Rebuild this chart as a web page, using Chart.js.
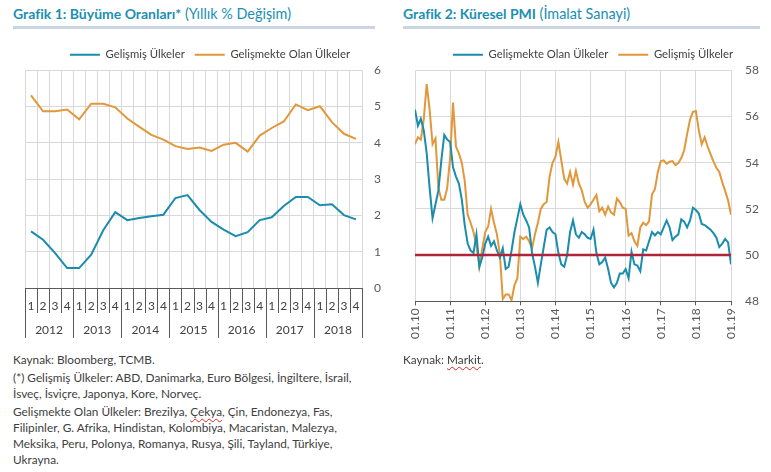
<!DOCTYPE html>
<html lang="tr">
<head>
<meta charset="utf-8">
<script src="https://cdn.jsdelivr.net/npm/chart.js@4.4.1/dist/chart.umd.min.js"></script>
<style>
    body { margin: 0; width: 771px; height: 472px; background: #fff; font-family: Lato, sans-serif; position: relative; overflow: hidden; }
    .title { position: absolute; top: 5px; font-size: 14px; line-height: 18px; color: #1b8fb3; white-space: nowrap; }
    .title b { font-weight: 700; }
    .title span { font-size: 14.4px; }
    .bar { position: absolute; top: 26px; height: 3px; background: #cbd5e2; }
    .box { position: absolute; }
    .note { position: absolute; font-size: 11.8px; line-height: 16px; color: #404040; white-space: nowrap; }
    .note div { margin-bottom: 2px; }
    .squig { text-decoration: underline wavy #e02424; text-decoration-thickness: 1px; text-underline-offset: 2px; }
</style>
</head>
<body>
<div class="title" style="left:13px"><b>Grafik 1: Büyüme Oranları*</b> <span>(Yıllık % Değişim)</span></div>
<div class="bar" style="left:13px;width:362px"></div>
<div class="title" style="left:403px"><b>Grafik 2: Küresel PMI</b> <span>(İmalat Sanayi)</span></div>
<div class="bar" style="left:403px;width:357px"></div>

<div class="box" style="left:0;top:39px;width:395px;height:306px"><canvas id="growthChart"></canvas></div>
<div class="box" style="left:390px;top:39px;width:381px;height:303px"><canvas id="pmiChart"></canvas></div>

<div class="note" style="left:13px;top:352px">
    <div>Kaynak: Bloomberg, TCMB.</div>
    <div>(*) Gelişmiş Ülkeler: ABD, Danimarka, Euro Bölgesi, İngiltere, İsrail,<br>İsveç, İsviçre, Japonya, Kore, Norveç.</div>
    <div>Gelişmekte Olan Ülkeler: Brezilya, <span class="squig">Çekya</span>, Çin, Endonezya, Fas,<br>Filipinler, G. Afrika, Hindistan, Kolombiya, Macaristan, Malezya,<br>Meksika, Peru, Polonya, Romanya, Rusya, Şili, Tayland, Türkiye,<br>Ukrayna.</div>
</div>
<div class="note" style="left:403px;top:352px">Kaynak: <span class="squig">Markit</span>.</div>

<script>
// ---------- Grafik 1: çeyreklik büyüme (yıllık % değişim) ----------
const quarterLabels = ['1','2','3','4','1','2','3','4','1','2','3','4','1','2','3','4',
                       '1','2','3','4','1','2','3','4','1','2','3','4'];
const yearLabels = ['2012', '2013', '2014', '2015', '2016', '2017', '2018'];
const growthAdvanced = [1.56, 1.33, 0.96, 0.55, 0.55, 0.92, 1.59, 2.09, 1.87, 1.93, 1.98, 2.02,
                        2.48, 2.56, 2.15, 1.82, 1.61, 1.43, 1.54, 1.87, 1.95, 2.26, 2.51, 2.51,
                        2.28, 2.31, 2.01, 1.89];
const growthEmerging = [5.31, 4.87, 4.87, 4.92, 4.65, 5.08, 5.08, 4.98, 4.67, 4.44, 4.22, 4.09,
                        3.91, 3.83, 3.87, 3.78, 3.95, 4.00, 3.76, 4.20, 4.41, 4.59, 5.06, 4.90,
                        5.01, 4.57, 4.25, 4.11];

// ---------- Grafik 2: aylık PMI, 01.10 - 01.19 ----------
const pmiTickLabels = ['01.10','01.11','01.12','01.13','01.14','01.15','01.16','01.17','01.18','01.19'];
const pmiEmerging = [
    56.3, 55.6, 55.9, 55.4, 54.4, 52.9, 51.6, 52.2, 52.8, 54.1, 55.2, 55.0,
    54.9, 53.8, 53.4, 53.1, 52.4, 51.3, 50.5, 50.2, 50.1, 50.9, 49.5, 49.9,
    50.5, 50.8, 50.4, 50.6, 50.2, 49.9, 50.3, 49.4, 49.5, 50.2, 51.0, 51.6,
    52.2, 51.75, 51.5, 51.2, 50.1, 49.5, 48.8, 49.6, 50.35, 51.1, 51.2, 51.0,
    50.9, 50.1, 49.6, 49.5, 50.0, 51.0, 51.5, 50.9, 50.75, 51.0, 50.9, 50.75,
    50.7, 51.1, 50.1, 49.6, 49.7, 49.9, 49.4, 48.8, 48.6, 48.8, 49.2, 49.2,
    49.4, 49.0, 50.15, 49.6, 49.55, 49.3, 50.25, 50.2, 50.6, 51.0, 50.85, 51.0,
    50.9, 51.2, 51.5, 51.2, 50.65, 50.8, 50.9, 51.55, 51.45, 51.2, 51.5, 52.05,
    51.95, 51.8, 51.35, 51.3, 51.2, 51.1, 50.95, 50.75, 50.35, 50.5, 50.7, 50.55,
    49.6
];
const pmiAdvanced = [
    54.8, 55.1, 55.0, 55.9, 57.4, 56.3, 54.8, 55.05, 52.9, 52.4, 52.4, 52.9,
    54.2, 56.6, 54.7, 54.4, 54.0, 53.2, 51.75, 51.4, 51.0, 50.4, 49.5, 50.3,
    51.0, 51.24, 52.0, 51.4, 50.9, 50.06, 48.1, 48.3, 48.3, 48.05, 48.7, 49.0,
    50.8, 50.7, 50.8, 50.6, 50.3, 50.9, 51.4, 52.0, 52.2, 52.3, 53.4, 54.0,
    54.25, 54.9, 54.1, 53.3, 53.1, 53.6, 53.05, 53.65, 53.1, 52.8, 52.3, 52.05,
    52.2, 52.4, 52.6, 51.9, 52.05, 51.75, 52.1, 51.85, 51.75, 52.45, 52.3, 52.05,
    52.0, 50.85, 50.95, 50.6, 50.4, 51.2, 51.4, 51.3, 51.46, 52.63, 52.85, 53.6,
    54.07, 54.1, 53.96, 54.04, 54.07, 53.9, 53.99, 54.2, 54.54, 55.24, 55.87, 56.2,
    56.24, 55.4, 54.8, 55.1, 54.7, 54.37, 54.06, 53.78, 53.6, 53.16, 52.78, 52.37,
    51.75
];
const pmiThreshold = 50;

const BLUE = '#1a8cad';
const ORANGE = '#e1973a';
const GRID = '#d9d9d9';
const AXIS = '#595959';

Chart.defaults.font.family = 'Lato';
Chart.defaults.font.size = 12;
Chart.defaults.color = '#595959';

const legendOpts = {
    position: 'top',
    labels: { usePointStyle: true, pointStyle: 'line', pointStyleWidth: 30, boxHeight: 12, padding: 10, color: '#404040', font: { size: 11.3 } }
};

// iki seviyeli (çeyrek / yıl) kategori ekseni
const quarterYearAxis = {
    id: 'quarterYearAxis',
    afterDraw(chart) {
        const { ctx, chartArea, scales: { x } } = chart;
        const base = chartArea.bottom;
        const step = x.getPixelForValue(1) - x.getPixelForValue(0);
        ctx.save();
        ctx.strokeStyle = AXIS;
        ctx.lineWidth = 1;
        ctx.fillStyle = '#404040';
        ctx.font = '12px Lato';
        ctx.textAlign = 'center';
        ctx.textBaseline = 'middle';
        const vline = (px, len) => {
            const sx = Math.round(px) + 0.5;
            ctx.beginPath();
            ctx.moveTo(sx, base);
            ctx.lineTo(sx, base + len);
            ctx.stroke();
        };
        quarterLabels.forEach((q, i) => {
            const cx = x.getPixelForValue(i);
            ctx.fillText(q, cx, base + 18);
            vline(cx - step / 2, i % 4 === 0 ? 50 : 25);
        });
        vline(x.getPixelForValue(quarterLabels.length - 1) + step / 2, 50);
        yearLabels.forEach((yr, j) => {
            const cx = (x.getPixelForValue(j * 4) + x.getPixelForValue(j * 4 + 3)) / 2;
            ctx.fillText(yr, cx, base + 42);
        });
        ctx.restore();
    }
};

// 50 eşik çizgisi
const thresholdLine = {
    id: 'thresholdLine',
    afterDatasetsDraw(chart) {
        const { ctx, chartArea, scales: { y } } = chart;
        const py = y.getPixelForValue(pmiThreshold);
        ctx.save();
        ctx.strokeStyle = '#b0243a';
        ctx.lineWidth = 2.5;
        ctx.beginPath();
        ctx.moveTo(chartArea.left, py);
        ctx.lineTo(chartArea.right, py);
        ctx.stroke();
        ctx.restore();
    }
};

new Chart(document.getElementById('growthChart'), {
    type: 'line',
    data: {
        labels: quarterLabels,
        datasets: [
            { label: 'Gelişmiş Ülkeler', data: growthAdvanced, borderColor: BLUE, backgroundColor: BLUE, borderWidth: 2, pointRadius: 0, tension: 0 },
            { label: 'Gelişmekte Olan Ülkeler', data: growthEmerging, borderColor: ORANGE, backgroundColor: ORANGE, borderWidth: 2, pointRadius: 0, tension: 0 }
        ]
    },
    options: {
        responsive: true,
        maintainAspectRatio: false,
        animation: false,
        layout: { padding: { left: 25, bottom: 57 } },
        plugins: { legend: legendOpts, tooltip: { enabled: false } },
        scales: {
            x: {
                offset: true,
                grid: { offset: true, color: GRID, drawTicks: false },
                border: { color: AXIS },
                ticks: { display: false }
            },
            y: {
                position: 'right',
                min: 0,
                max: 6,
                ticks: { stepSize: 1, padding: 12 },
                grid: { color: GRID, drawTicks: false },
                border: { display: false },
                afterFit: (s) => { s.width = 33; }
            }
        }
    },
    plugins: [quarterYearAxis]
});

new Chart(document.getElementById('pmiChart'), {
    type: 'line',
    data: {
        datasets: [
            { label: 'Gelişmekte Olan Ülkeler', data: pmiEmerging.map((v, i) => ({ x: i, y: v })), borderColor: BLUE, backgroundColor: BLUE, borderWidth: 2, pointRadius: 0, tension: 0 },
            { label: 'Gelişmiş Ülkeler', data: pmiAdvanced.map((v, i) => ({ x: i, y: v })), borderColor: ORANGE, backgroundColor: ORANGE, borderWidth: 2, pointRadius: 0, tension: 0 }
        ]
    },
    options: {
        responsive: true,
        maintainAspectRatio: false,
        animation: false,
        layout: { padding: { left: 25 } },
        plugins: { legend: legendOpts, tooltip: { enabled: false } },
        scales: {
            x: {
                type: 'linear',
                min: 0,
                max: 108,
                ticks: {
                    stepSize: 12,
                    autoSkip: false,
                    minRotation: 90,
                    maxRotation: 90,
                    padding: 3,
                    callback: (v) => pmiTickLabels[v / 12] ?? ''
                },
                grid: { color: GRID, tickColor: AXIS, tickLength: 4 },
                border: { color: AXIS }
            },
            y: {
                position: 'right',
                min: 48,
                max: 58,
                ticks: { stepSize: 2, padding: 14 },
                grid: { color: GRID, drawTicks: false },
                border: { display: false },
                afterFit: (s) => { s.width = 40; }
            }
        }
    },
    plugins: [thresholdLine]
});
</script>
</body>
</html>
